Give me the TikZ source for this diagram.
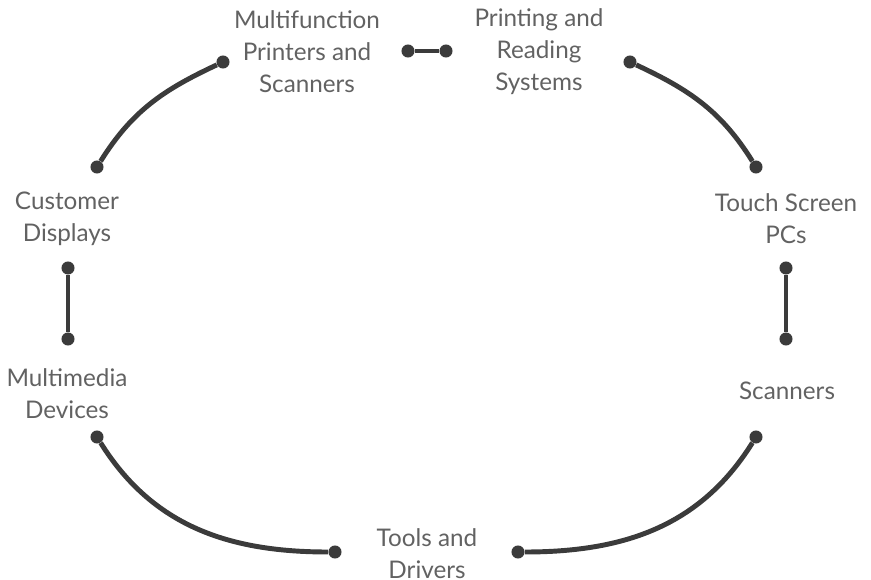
\documentclass[tikz,border=0pt]{standalone}
\usepackage{fontspec}
\setmainfont{Lato}
\usepackage{tikz}
\usetikzlibrary{arrows}
\definecolor{labelgray}{HTML}{626262}
\definecolor{linkgray}{HTML}{3B3B3B}

\begin{document}
\begin{tikzpicture}[x=0.75pt,y=0.75pt,
  item node/.style={text=labelgray,align=center,font=\fontsize{18.2}{24}\selectfont},
  dot/.style={circle,fill=linkgray,inner sep=0pt,minimum size=9.8pt},
  link/.style={draw=linkgray,line width=3.7pt}]

  \useasboundingbox (0,0) rectangle (871,-579);

  \node[item node] (mfp) at (307,-52) {Multifunction\\Printers and\\Scanners};
  \node[item node] (prs) at (539,-52) {Printing and\\Reading\\Systems};
  \node[item node] (tsp) at (786,-219) {Touch Screen\\PCs};
  \node[item node] (scn) at (787,-391) {Scanners};
  \node[item node] (tad) at (427,-554) {Tools and\\Drivers};
  \node[item node] (mmd) at (67,-394) {Multimedia\\Devices};
  \node[item node] (cud) at (67,-219) {Customer\\Displays};

  \node[dot] (cud1) at (97,-167) {};
  \node[dot] (mfp1) at (223,-62) {};
  \node[dot] (mfp2) at (408,-51) {};
  \node[dot] (prs1) at (446,-51) {};
  \node[dot] (prs2) at (630,-62) {};
  \node[dot] (tsp1) at (756,-167) {};
  \node[dot] (tsp2) at (786,-268) {};
  \node[dot] (scn1) at (786,-339) {};
  \node[dot] (scn2) at (756,-437) {};
  \node[dot] (tad1) at (518,-552) {};
  \node[dot] (tad2) at (335,-552) {};
  \node[dot] (mmd1) at (97,-437) {};
  \node[dot] (mmd2) at (68,-339) {};
  \node[dot] (cud2) at (68,-268) {};

  \path[link]
  (cud1) edge [out=58,in=205] (mfp1)
  (mfp2) edge (prs1)
  (prs2) edge [out=-25,in=122] (tsp1)
  (tsp2) edge (scn1)
  (scn2) edge [out=238,in=0] (tad1)
  (tad2) edge [out=180,in=-58] (mmd1)
  (mmd2) edge (cud2)
  ;

\end{tikzpicture}
\end{document}
